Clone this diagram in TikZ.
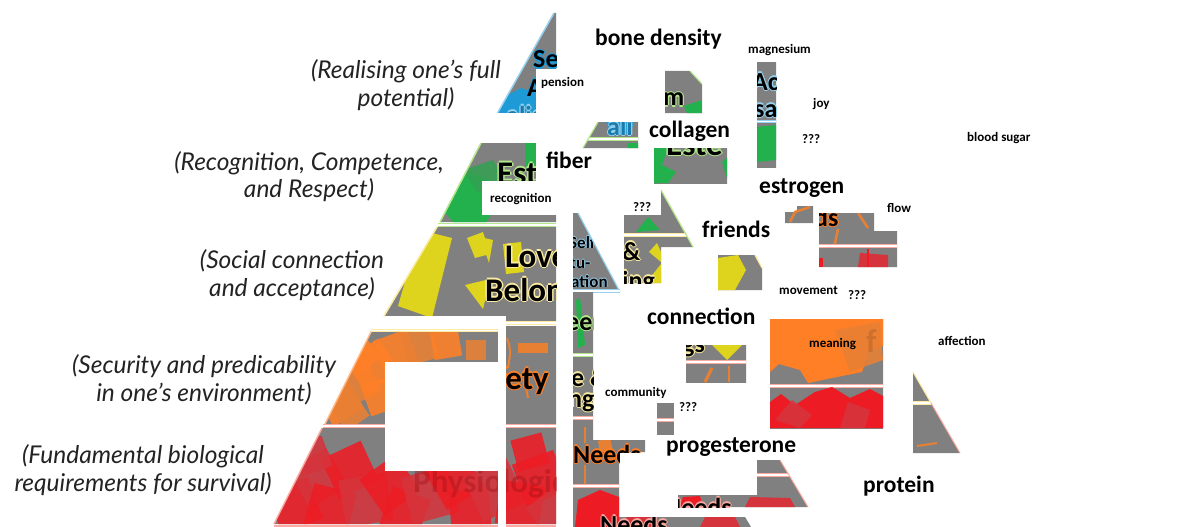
\documentclass[tikz,border=0pt]{standalone}
\usepackage{fontspec}
\setmainfont{Carlito}
\newfontfamily\labfont{Lato}
\definecolor{pg}{RGB}{128,128,128}
\definecolor{grn}{RGB}{34,177,76}
\definecolor{grn2}{RGB}{52,160,82}
\definecolor{yel}{RGB}{222,212,30}
\definecolor{org}{RGB}{255,127,39}
\definecolor{org2}{RGB}{232,128,52}
\definecolor{rd}{RGB}{237,28,36}
\definecolor{rd2}{RGB}{214,52,60}
\definecolor{blu}{RGB}{30,155,215}
\definecolor{lblu}{RGB}{150,210,240}
\definecolor{lgrn}{RGB}{180,230,140}
\definecolor{lyel}{RGB}{250,235,160}
\definecolor{pinkl}{RGB}{250,170,160}
\definecolor{labc}{RGB}{35,35,35}
\newcommand{\olt}[2]{\leavevmode\rlap{\textcolor{#1}{\kern-0.045em#2}}\rlap{\textcolor{#1}{\kern0.045em#2}}\rlap{\textcolor{#1}{\raisebox{0.045em}{#2}}}\rlap{\textcolor{#1}{\raisebox{-0.045em}{#2}}}#2}
\begin{document}
\begin{tikzpicture}[x=1pt,y=-1pt,
  lab/.style={font=\labfont\itshape\fontsize{24.5}{27.5}\selectfont, align=center, text=labc, inner sep=0pt},
  big/.style={font=\bfseries\fontsize{23.5}{26}\selectfont, inner sep=0pt, anchor=base west},
  sml/.style={font=\bfseries\fontsize{13}{15}\selectfont, inner sep=0pt, anchor=base west},
  ptx/.style={font=\bfseries\fontsize{33}{33}\selectfont, inner sep=0pt, anchor=base west},
  ptm/.style={font=\bfseries\fontsize{26}{26}\selectfont, inner sep=0pt, anchor=base west},
  pts/.style={font=\bfseries\fontsize{17}{17}\selectfont, inner sep=0pt, anchor=base west},
  tl/.style={draw=white, line width=1.4pt, preaction={draw=#1, line width=3.4pt}},
  tl/.default=pinkl,
  sq/.style={opacity=.88}
]
\useasboundingbox (0,0) rectangle (1178,527);

% ---------------- left pyramid ----------------
% self-actualisation
\begin{scope}
\clip (554,13)--(556,13)--(556,114)--(497,114)--cycle;
\fill[pg] (490,10) rectangle (560,116);
\fill[blu] (497,114)--(504,97)--(521,88)--(538,94)--(546,114)--cycle;
\node[ptm] (se) at (533,68) {\olt{blu}{Self-}};
\node[ptm] (ac1) at (527,96) {\olt{blu}{Actu-}};
\node[ptm,text=blu!80!black] (al1) at (506,124) {\olt{lblu}{alisation}};
\end{scope}
\draw[lblu,line width=1.5pt] (554,13)--(497,114);

% esteem
\begin{scope}
\clip (481,143)--(556,143)--(556,222)--(440,222)--cycle;
\fill[pg] (430,140) rectangle (560,225);
\fill[grn] (443,210)--(452,184)--(470,172)--(492,181)--(497,204)--(484,226)--(458,228)--cycle;
\fill[grn2,opacity=.85] (463,170)--(493,160)--(507,184)--(478,193)--cycle;
\fill[grn] (525,143) rectangle (537,167);
\node[ptx] (est) at (497,184) {\olt{lgrn}{Esteem}};
\end{scope}
\draw[lgrn,line width=1.5pt] (481,143)--(440,222);
\draw[tl=lgrn] (438,225)--(556,225);

% love
\begin{scope}
\clip (437,227)--(556,227)--(556,321)--(381,321)--cycle;
\fill[pg] (375,225) rectangle (560,322);
\fill[yel] (398,306)--(420,230)--(452,238)--(432,318)--cycle;
\fill[yel] (467,238)--(483,232)--(490,254)--(475,258)--cycle;
\fill[yel] (465,285)--(490,279)--(483,309)--cycle;
\fill[yel] (480,237)--(493,240)--(489,263)--cycle;
\fill[yel] (503,244)--(521,242)--(524,272)--(506,274)--cycle;
\node[ptx] (lov) at (505,267) {\olt{lyel}{Love \&}};
\node[ptx] (bel) at (485,301) {\olt{lyel}{Belonging}};
\end{scope}
\draw[lyel,line width=1.5pt] (437,227)--(381,321);
\draw[tl=lyel] (380,323)--(556,323);

% safety
\begin{scope}
\clip (374,326)--(556,326)--(556,424)--(325,424)--cycle;
\fill[pg] (320,320) rectangle (560,426);
\foreach \x/\y/\s/\a/\c in {340/402/18/30/org,355/382/20/25/org2,372/366/20/32/org,396/352/18/20/org,420/346/16/15/org2,446/344/14/10/org,350/412/14/35/org2,381/396/16/20/org,476/350/10/0/org2,362/355/14/40/org}
  \fill[\c,sq,shift={(\x,\y)},rotate=\a] (-\s,-\s) rectangle (\s,\s);
\fill[org2] (518,343) rectangle (548,353);
\draw[org2,line width=2pt] (523,372)--(528,398);
\draw[org2,line width=2pt] (507,338) .. controls (511,350) .. (508,368);
\node[ptx] (saf) at (549,389) [anchor=base east] {\olt{org}{Safety}};
\end{scope}
\draw[org!55,line width=1.5pt] (374,326)--(325,424);
\draw[tl=pinkl] (323,426)--(556,426);

% physiological
\begin{scope}
\clip (322,428)--(556,428)--(556,524)--(274,524)--cycle;
\fill[pg] (270,425) rectangle (560,527);
\foreach \x/\y/\s/\a/\c in {295/505/22/20/rd,318/478/22/30/rd2,330/510/22/-15/rd,350/470/22/25/rd,366/500/24/10/rd2,390/485/22/35/rd,405/512/20/-20/rd,430/495/24/15/rd2,455/480/22/30/rd,470/510/20/5/rd,495/490/24/25/rd2,520/505/22/-10/rd,540/478/22/20/rd,548/512/16/35/rd2,312/456/16/20/rd2,530/452/16/15/rd}
  \fill[\c,sq,shift={(\x,\y)},rotate=\a] (-\s,-\s) rectangle (\s,\s);
\node[ptx,text=rd!70!black,text opacity=.45] (phy) at (413,492) {Physiological};
\end{scope}
\draw[pinkl,line width=1.5pt] (322,428)--(274,524);
\draw[pinkl,line width=2pt] (274,525.5)--(556,525.5);

% white cut-outs
\fill[white] (536,69) rectangle (557,114);
\fill[white] (436,113) rectangle (557,143);
\fill[white] (536,143) rectangle (557,181);
\fill[white] (482,181) rectangle (557,215);
\fill[white] (372,316) rectangle (506,329);
\fill[white] (498,316) rectangle (506,527);
\fill[white] (385,362) rectangle (498,471);
\draw[tl=lyel] (371,330.5)--(498,330.5);

% ---------------- scattered pieces ----------------
% P1
\begin{scope}
\clip (598,122)--(638,122)--(638,148)--(583,148)--cycle;
\fill[pg] (580,120) rectangle (640,150);
\fill[blu] (606,122)--(634,122)--(630,134)--(612,135)--cycle;
\node[ptm,text=blu!80!black] (ai) at (607,135) {\olt{lblu}{ali}};
\draw[tl=lgrn] (580,139)--(640,139);
\fill[grn] (628,143) rectangle (640,150);
\end{scope}
\draw[lgrn,line width=1.2pt] (598,122)--(583,148);

% P2
\begin{scope}
\clip (665,71)--(690,71)--(702,84)--(702,113)--(665,113)--cycle;
\fill[pg] (660,70) rectangle (705,115);
\fill[grn] (684,106)--(702,100)--(702,113)--(687,113)--cycle;
\node[ptm] (m) at (663,106) {\olt{lgrn}{m}};
\end{scope}
\draw[lgrn,line width=1.2pt] (690,71)--(702,84);

% P3
\begin{scope}
\clip (654,148) rectangle (727,183);
\fill[pg] (650,145) rectangle (730,185);
\fill[grn] (654,148)--(668,148)--(662,165)--(676,172)--(668,183)--(654,183)--cycle;
\fill[grn] (722,162)--(727,158)--(727,178)--cycle;
\node[ptx] (est2) at (666,155) {\olt{lgrn}{Este}};
\end{scope}

% P4
\begin{scope}
\clip (757,63) rectangle (776,167);
\fill[pg] (755,60) rectangle (780,170);
\node[ptm] (ac2) at (752,90) {\olt{lblu}{Actu}};
\node[ptm] (sa2) at (754,117) {\olt{lblu}{sa}};
\draw[tl=lblu] (755,121.5)--(780,121.5);
\fill[grn] (757,127)--(776,125)--(776,160)--(757,162)--cycle;
\end{scope}

% P6 small apex
\begin{scope}
\clip (573,213)--(578,213)--(620,292)--(573,292)--cycle;
\fill[pg] (570,210) rectangle (625,295);
\node[pts] (elf) at (569,248) {\olt{lblu}{Self-}};
\node[pts] (tu) at (570,268) {\olt{lblu}{tu-}};
\node[pts] (ati) at (571,287) {\olt{lblu}{ation}};
\end{scope}
\draw[lblu,line width=1.2pt] (578,213)--(620,292);
\draw[tl=lblu] (573,291)--(620,291);

% P10
\begin{scope}
\clip (624,215)--(661,215)--(661,190)--(693,247)--(661,247)--(661,283)--(624,283)--cycle;
\fill[pg] (620,185) rectangle (700,285);
\fill[grn] (636,232)--(648,217)--(660,230)--cycle;
\draw[tl=lyel] (620,235)--(693,235);
\fill[yel] (649,252)--(657,243)--(661,252)--(661,262)--cycle;
\fill[yel] (646,283)--(661,264)--(661,283)--cycle;
\node[ptm] (amp) at (622,260) {\olt{lyel}{\&}};
\node[ptm] (ing) at (622,289) {\olt{lyel}{ing}};
\end{scope}
\draw[lgrn,line width=1.2pt] (661,190)--(693,247);

% P11
\begin{scope}
\clip (718,255)--(755,255)--(762,268)--(762,290)--(718,290)--cycle;
\fill[pg] (715,250) rectangle (765,292);
\fill[yel] (718,258)--(738,255)--(746,270)--(735,290)--(718,290)--cycle;
\end{scope}
\draw[lyel,line width=1.2pt] (755,255)--(762,268);

% P12
\fill[pg] (785,212)--(797,212)--(797,206)--(813,206)--(813,223)--(785,223)--cycle;
\draw[org2,line width=2.5pt] (790,222)--(795,212)--(810,207);

% P13
\begin{scope}
\clip (819,213)--(874,213)--(874,231)--(897,231)--(897,267)--(819,267)--cycle;
\fill[pg] (815,210) rectangle (900,270);
\node[ptm] (ds) at (814,226) {\olt{org}{ds}};
\draw[org2,line width=2.5pt] (858,213)--(868,228);
\draw[org2,line width=2.5pt] (838,229)--(834,248);
\draw[tl=pinkl] (819,246)--(897,246);
\fill[rd2] (858,267)--(860,253)--(888,255)--(888,267)--cycle;
\draw[rd,line width=1.5pt] (868,249)--(868,267);
\fill[rd] (819,258) rectangle (823,267);
\end{scope}

% P9
\begin{scope}
\clip (686,345) rectangle (746,382);
\fill[pg] (680,340) rectangle (750,385);
\fill[yel] (712,345)--(742,345)--(727,360)--cycle;
\node[ptm] (gs) at (682,352) {\olt{lyel}{gs}};
\draw[tl=pinkl] (686,362)--(746,362);
\draw[org2,line width=3pt] (705,382)--(712,368);
\draw[org2,line width=2pt] (729,366)--(729,382);
\end{scope}

% P14
\begin{scope}
\clip (770,319) rectangle (883,428);
\fill[pg] (765,315) rectangle (885,430);
\fill[org] (770,319)--(883,319)--(883,346)--(868,352)--(862,372)--(832,378)--(808,383)--(800,370)--(779,364)--(770,372)--cycle;
\fill[org2,sq] (835,330)--(880,322)--(883,360)--(850,372)--cycle;
\node[ptx,text=org2!80!black,text opacity=.6] (f) at (866,352) {f};
\draw[tl=pinkl] (770,386)--(883,386);
\fill[rd] (770,428)--(770,402)--(781,394)--(795,405)--(815,392)--(832,387)--(850,398)--(870,389)--(883,396)--(883,428)--cycle;
\fill[rd2,sq] (775,420)--(792,400)--(812,415)--(800,428)--cycle;
\fill[rd2,sq] (840,428)--(848,402)--(870,410)--(865,428)--cycle;
\end{scope}

% P15
\begin{scope}
\clip (913,372)--(960,453)--(913,453)--cycle;
\fill[pg] (910,370) rectangle (962,455);
\draw[tl=lyel] (913,403)--(935,403);
\draw[org2,line width=2pt] (917,446)--(937,443);
\end{scope}
\draw[lyel,line width=1pt] (913,372)--(931,403);
\draw[pinkl,line width=1pt] (931,403)--(960,453);

% left-middle column
\begin{scope}
\clip (573,292)--(593,292)--(593,440)--(645,440)--(645,452)--(619,452)--(619,517)--(745,517)--(751,527)--(573,527)--cycle;
\fill[pg] (570,290) rectangle (760,527);
\fill[grn] (576,300)--(580,298)--(585,345)--(578,348)--cycle;
\node[ptm] (een) at (566,330) {\olt{lgrn}{een}};
\draw[tl=lgrn] (573,355)--(593,355);
\node[ptm] (eamp) at (571,386) {\olt{lyel}{e \&}};
\node[ptm] (ngi) at (568,407) {\olt{lyel}{ngi}};
\draw[tl=pinkl] (573,418)--(593,418);
\fill[org2] (598,441)--(610,438)--(613,452)--(600,452)--cycle;
\draw[org2,line width=2pt] (585,427)--(585,443);
\draw[org2,line width=2pt] (585,465)--(585,484);
\node[ptm] (need) at (573,463) {\olt{org}{Needs}};
\draw[tl=pinkl] (573,486)--(619,486);
\fill[rd] (575,527)--(578,500)--(600,490)--(619,497)--(619,527)--cycle;
\fill[rd2] (622,527)--(628,515)--(650,517)--(655,527)--cycle;
\fill[rd2] (700,527)--(705,517)--(735,517)--(740,527)--cycle;
\node[ptm] (needs2) at (600,533) {\olt{pinkl}{Needs}};
\end{scope}

% small square
\fill[pg] (657,403) rectangle (674,435);
\draw[tl=pinkl] (657,420)--(674,420);

% P16
\begin{scope}
\clip (757,460)--(780,460)--(808,507)--(678,507)--(678,495)--(757,495)--cycle;
\fill[pg] (675,455) rectangle (810,510);
\draw[tl=pinkl] (757,475)--(800,475);
\fill[rd] (680,507)--(683,497)--(700,496)--(703,507)--cycle;
\fill[rd2] (745,507)--(750,497)--(790,498)--(795,507)--cycle;
\node[ptm] (needs3) at (664,516) {\olt{pinkl}{Needs}};
\end{scope}
\draw[pinkl,line width=1pt] (780,460)--(808,507);

% ---------------- words ----------------
\node[big] (bd) at (595,46) {bone density};
\node[sml] (mg) at (748,54) {magnesium};
\node[sml] (pe) at (541,87) {pension};
\node[sml] (jy) at (813,107) {joy};
\node[big] (co) at (649,137) {collagen};
\node[sml] (q1) at (802,143) {???};
\node[sml] (bs) at (967,141) {blood sugar};
\node[big] (fi) at (546,168) {fiber};
\node[big] (es) at (759,193) {estrogen};
\node[sml] (rc) at (490,202) {recognition};
\node[sml] (q2) at (633,211) {???};
\node[sml] (fl) at (887,212) {flow};
\node[big] (fr) at (702,237) {friends};
\node[sml] (mv) at (779,294) {movement};
\node[sml] (q3) at (848,299) {???};
\node[big] (cn) at (647,324) {connection};
\node[sml] (me) at (809,347) {meaning};
\node[sml] (af) at (938,345) {affection};
\node[sml] (cm) at (605,396) {community};
\node[sml] (q4) at (679,411) {???};
\node[big] (pr) at (666,452) {progesterone};
\node[big] (pt) at (863,492) {protein};

% ---------------- level descriptions ----------------
\node[lab] (la) at (406,85) {(Realising one’s full\\potential)};
\node[lab] (lb) at (309,176.5) {(Recognition, Competence,\\and Respect)};
\node[lab] (lc) at (292,275) {(Social connection\\and acceptance)};
\node[lab] (ld) at (204,380) {(Security and predicability\\in one’s environment)};
\node[lab] (le) at (143,470) {(Fundamental biological\\requirements for survival)};
\end{tikzpicture}
\end{document}
